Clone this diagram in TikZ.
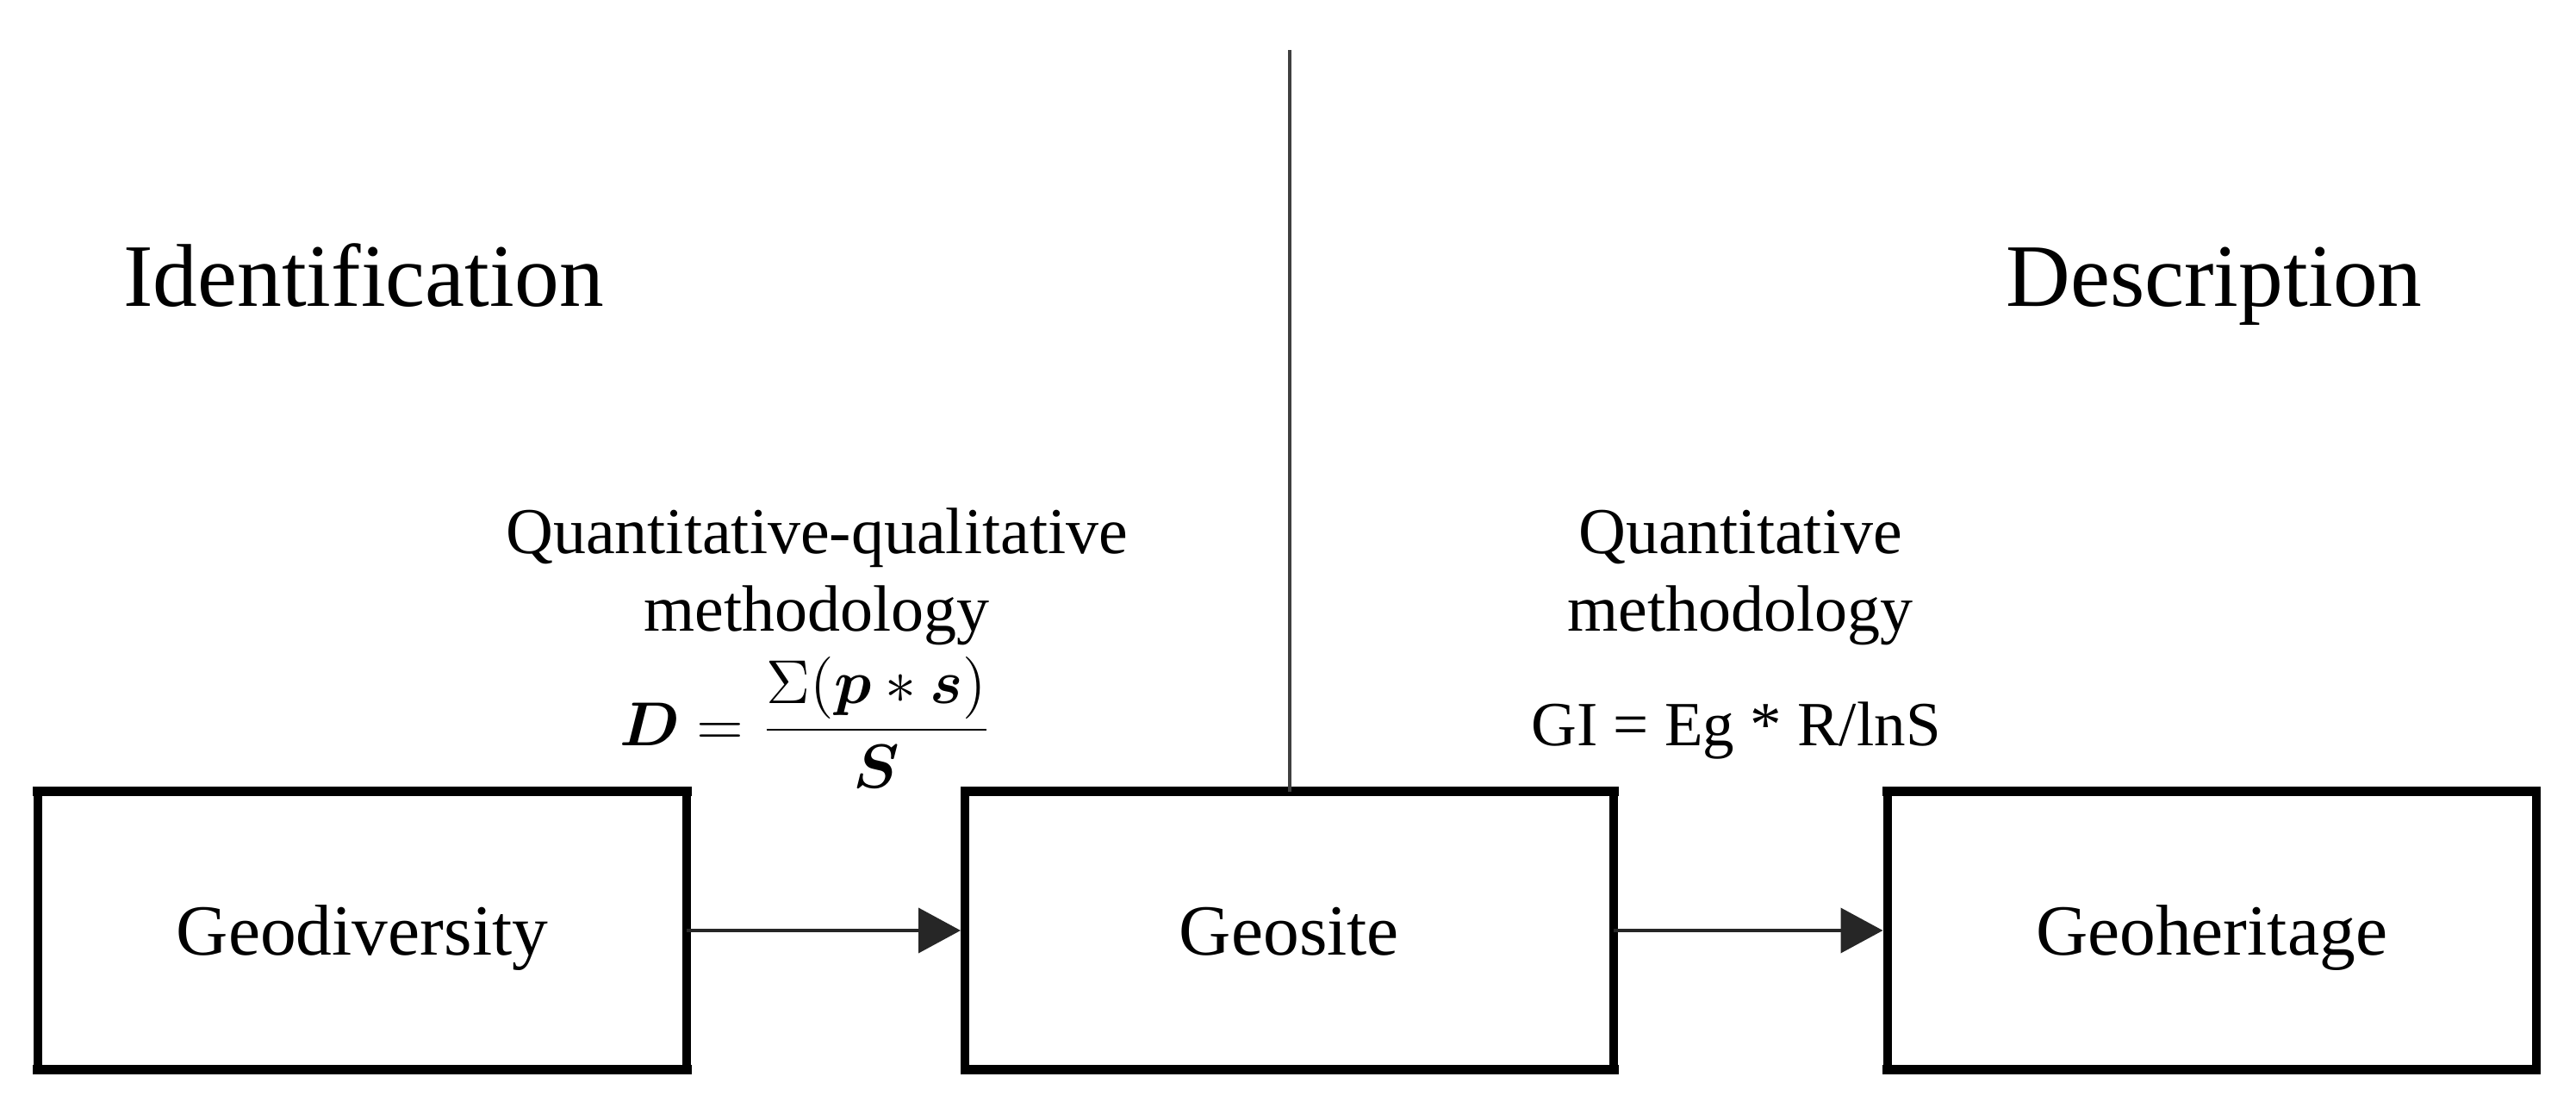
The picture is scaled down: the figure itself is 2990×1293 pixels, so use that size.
\documentclass[tikz,border=0pt]{standalone}
\usepackage{amsmath}
\usepackage{fontspec}
\setmainfont{Liberation Serif}
\usetikzlibrary{arrows.meta}
\begin{document}
\begin{tikzpicture}[x=0.2pt,y=-0.2pt,
  box/.style={draw,line width=2pt,outer sep=0pt,line join=round,minimum width=150.6pt,minimum height=64.6pt,inner sep=0pt,
    text height=13pt,text depth=1.8pt,font=\fontsize{16.7}{19}\selectfont},
  boxedge/.style={line width=2.2pt,line cap=rect},
  title/.style={inner sep=0pt,anchor=base,font=\fontsize{20.7}{24}\selectfont},
  lbl/.style={inner sep=0pt,align=center,anchor=base,font=\fontsize{15.2}{18}\selectfont},
  formula/.style={inner sep=0pt,anchor=base,font=\fontsize{13.6}{16}\selectfont},
  conn/.style={line width=0.8pt,black!85,-{Triangle[length=9.8pt,width=10.4pt]}},
  divider/.style={line width=0.7pt,black!75}]
\useasboundingbox (0,0) rectangle (2990,1293);
\node[box] (gd) at (420.5,1080) {Geodiversity};
\node[box] (gs) at (1496.5,1080) {Geosite};
\node[box] (gh) at (2567,1080) {Geoheritage};
\foreach \n in {gd,gs,gh}{
  \draw[boxedge] (\n.north west) -- (\n.north east);
  \draw[boxedge] (\n.south west) -- (\n.south east);
}
\node[title] (id) at (422,355) {Identification};
\node[title] (ds) at (2570,355) {Description};
\coordinate (top) at (1497,58);
\draw[divider] (gs.north -| top) -- (top);
\draw[conn,shorten >=1pt] (gd.east) -- (gs.west);
\draw[conn,shorten >=1pt] (gs.east) -- (gh.west);
\node[lbl] (m1) at (948,732) {Quantitative-qualitative\\methodology};
\node[formula] (f1) at (935,865) {$\displaystyle\boldsymbol{D}=\frac{\Sigma(\boldsymbol{p}*\boldsymbol{s})}{\boldsymbol{S}}$};
\node[lbl] (m2) at (2020,732) {Quantitative\\methodology};
\node[lbl,font=\fontsize{14.6}{17}\selectfont] (f2) at (2015,865) {GI = Eg * R/lnS};
\end{tikzpicture}
\end{document}
